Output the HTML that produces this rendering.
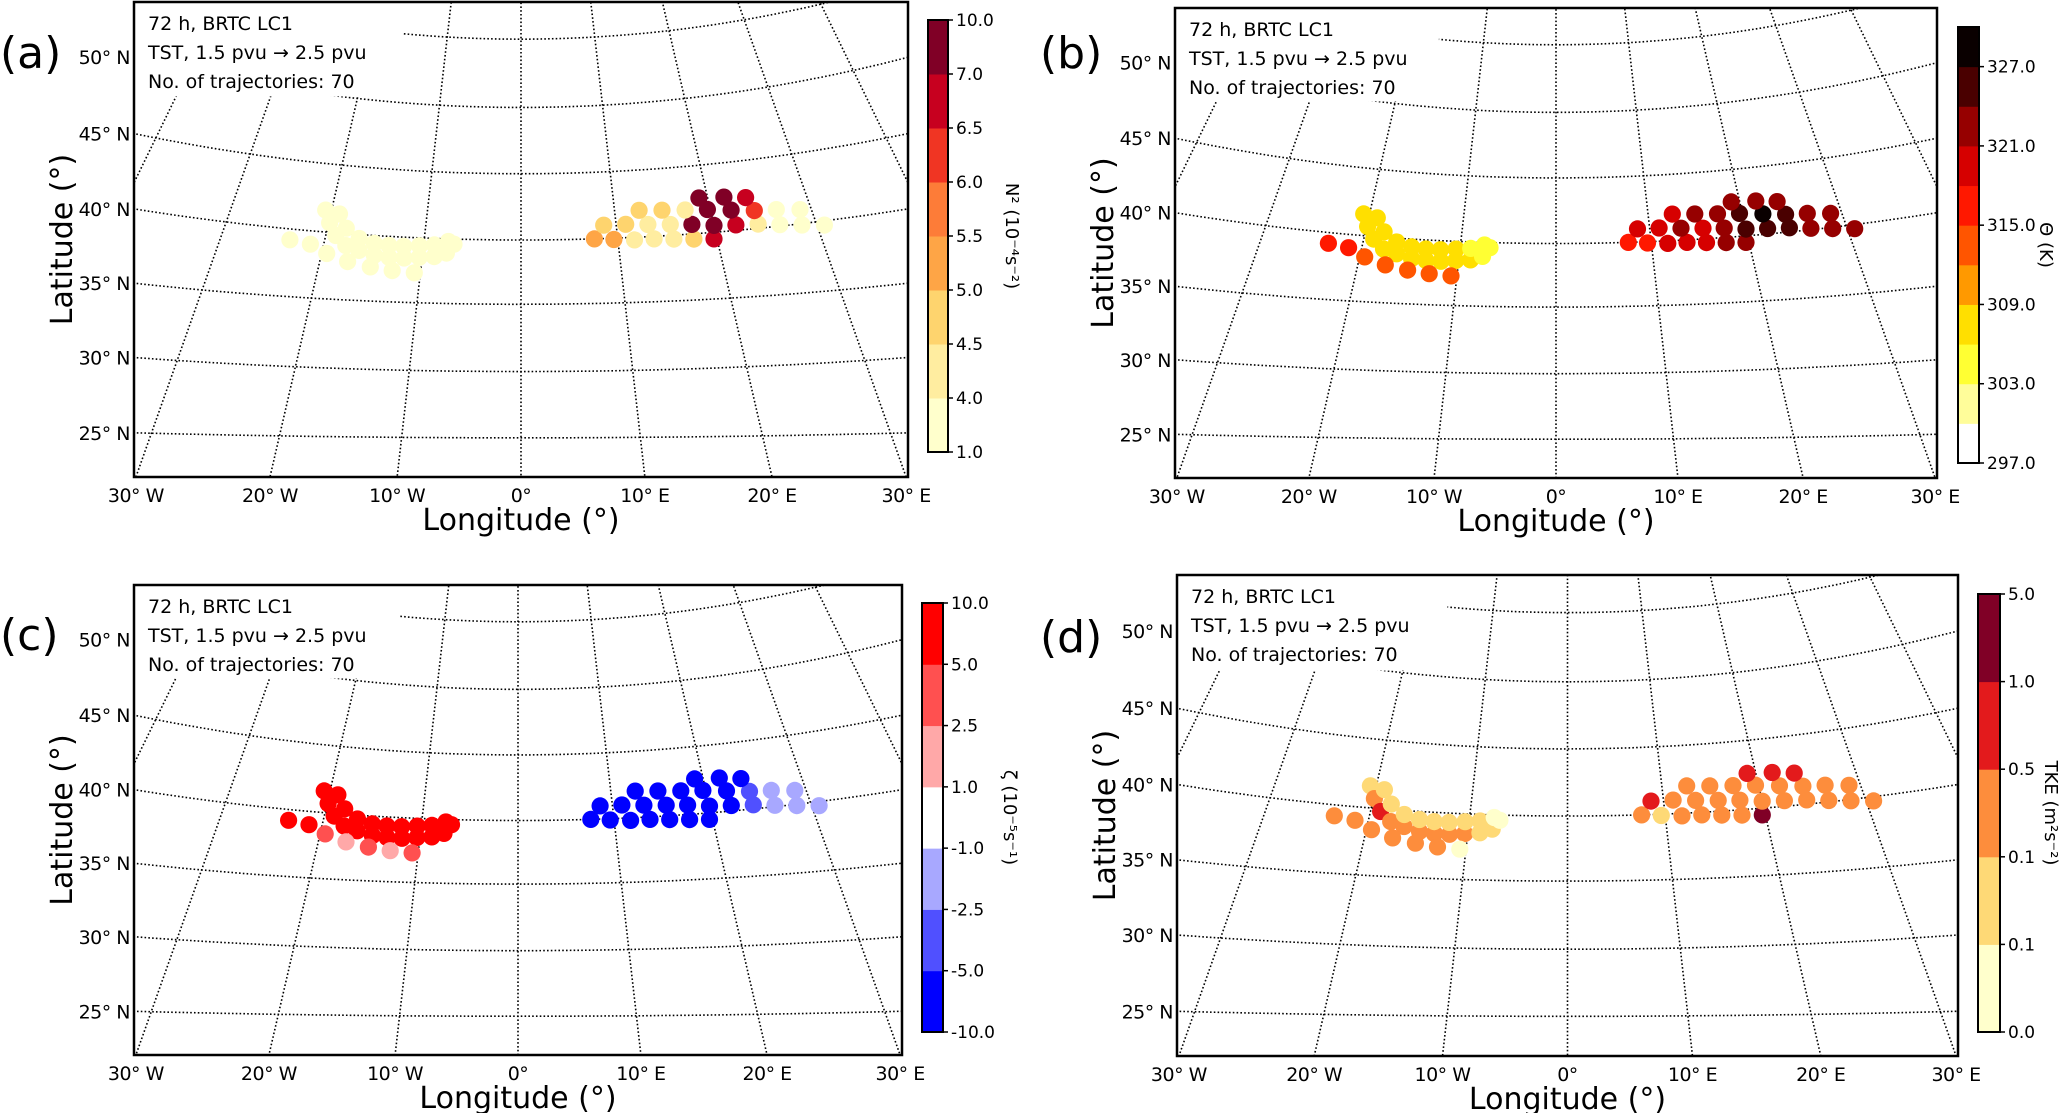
<!DOCTYPE html>
<html><head><meta charset="utf-8">
<style>
html,body{margin:0;padding:0;background:#fff;}
svg{display:block;font-family:"DejaVu Sans","Liberation Sans",sans-serif;}
</style></head>
<body>
<svg id="fig" width="2067" height="1113" viewBox="0 0 2067 1113" xmlns="http://www.w3.org/2000/svg"></svg>
<script>
// ---------- data (shared trajectory positions) ----------
const lons = [-20.6,-19.9,-19.0,-17.8,-16.4,-14.8,-13.3,-11.8,-10.3,-8.8,-7.6,-6.9,
  -19.1,-18.1,-16.6,-15.0,-13.5,-12.0,-10.4,-8.9,-7.5,
  -23.4,-21.3,-19.5,-17.3,-15.0,-12.8,-10.6,
  7.6,9.6,11.7,13.7,15.7,17.7,19.7,
  8.7,11.0,13.3,15.6,17.8,20.0,22.2,24.4,26.5,28.6,30.7,
  12.6,15.0,17.4,19.7,22.1,24.4,26.6,28.9,
  19.1,21.7,23.9];
const lats = [41.6,40.7,39.8,39.1,38.8,38.5,38.4,38.4,38.5,38.6,38.9,39.6,
  41.4,40.4,39.7,39.4,39.3,39.3,39.4,39.5,39.8,
  39.2,39.0,38.4,37.9,37.6,37.4,37.3,
  40.0,39.9,39.8,39.8,39.7,39.6,39.5,
  41.0,41.0,40.9,40.8,40.7,40.5,40.4,40.3,40.1,39.9,39.7,
  42.0,41.9,41.8,41.7,41.5,41.3,41.2,41.0,
  42.6,42.5,42.3];
const n2Values = [2,2,2,2,2,2,2,2,2,2,2,2, 2,2,2,2,2,2,2,2,2, 2,2,2,2,2,2,2,
  5.2,5.4,4.3,4.2,4.4,4.6,6.8,
  4.8,4.5,4.3,4.4,8.5,8.0,6.8,4.1,3.5,3.2,3.0,
  4.6,4.7,4.4,8.8,7.5,6.3,3.8,3.4,
  9.0,8.5,6.8];
const thetaValues = [308,307,307,307,307,307,307,307,307,306,305,305,
  308,307,307,307,307,307,306,305,305,
  316,315,314,314,314,313,313,
  317,317,319,320,320,321,322,
  318,320,321,320,323,325,326,325,322,323,321,
  320,321,322,326,328,325,323,322,
  322,323,322];
const zetaValues = [8,8,8,8,8,8,8,8,8,8,8,8, 8,8,8,8,8,8,8,8,8,
  7,6,3,2,3,2,4,
  -8,-8,-8,-8,-8,-8,-8,
  -8,-8,-8,-8,-8,-7,-6,-4,-2,-2,-2,
  -8,-8,-8,-7,-6,-4,-2,-2,
  -8,-8,-7];
const tkeValues = [0.08,0.3,0.7,0.3,0.3,0.3,0.3,0.3,0.2,0.08,0.08,0.04,
  0.08,0.08,0.08,0.07,0.08,0.08,0.07,0.06,0.03,
  0.3,0.3,0.3,0.3,0.3,0.3,0.04,
  0.3,0.08,0.3,0.3,0.3,0.3,2.0,
  0.7,0.3,0.3,0.3,0.3,0.3,0.3,0.3,0.3,0.3,0.3,
  0.3,0.3,0.3,0.3,0.3,0.3,0.3,0.3,
  0.7,0.7,0.7];
// colour-bar bins
const n2Edges = [1.0,4.0,4.5,5.0,5.5,6.0,6.5,7.0,10.0];
const n2Labels = ["1.0","4.0","4.5","5.0","5.5","6.0","6.5","7.0","10.0"];
const thetaEdges = [297,300,303,306,309,312,315,318,321,324,327,330];
const thetaLabels = ["297.0","","303.0","","309.0","","315.0","","321.0","","327.0",""];
const zetaEdges = [-10,-5,-2.5,-1,1,2.5,5,10];
const zetaLabels = ["-10.0","-5.0","-2.5","-1.0","1.0","2.5","5.0","10.0"];
const tkeEdges = [0,0.05,0.1,0.5,1,5];
const tkeLabels = ["0.0","0.1","0.1","0.5","1.0","5.0"];
const lonTicks = [-30,-20,-10,0,10,20,30];
const lonTickLabels = ["30° W","20° W","10° W","0°","10° E","20° E","30° E"];
const latTicks = [25,30,35,40,45,50];
const latTickLabels = ["25° N","30° N","35° N","40° N","45° N","50° N"];

const n2Colors = ["#ffffcc","#ffeda0","#fed46e","#fea546","#fd7c38","#f03523","#c7001f","#800026"];
const thetaColors = ["#ffffff","#fffd9a","#ffff33","#ffdf00","#ff9900","#ff5500","#ff1800","#d60000","#960000","#4a0000","#0a0000"];
const zetaColors = ["#0000ff","#5050ff","#a8a8ff","#ffffff","#ffa8a8","#ff5050","#ff0000"];
const tkeColors = ["#ffffcc","#fed976","#fd8d3c","#e31a1c","#800026"];

// ---------- projection (reference box 774 x 473) ----------
const P=610, CX=387, W=387, BW=774, BH=473;
const kLat=[15,20,25,30,35,40,45,50,55,60,65];
const kYc=[566,500,434,368,301,237,171,105,37,-31,-99];
const kS=[0,0,5,14,21,31,40,50,58,66,74];
function interp(lat,arr){
  if(lat<=kLat[0])return arr[0];
  for(let i=0;i<kLat.length-1;i++){ if(lat<=kLat[i+1]){const t=(lat-kLat[i])/(kLat[i+1]-kLat[i]);return arr[i]+t*(arr[i+1]-arr[i]);} }
  return arr[arr.length-1];
}
const A = 0.6525*Math.PI/180;
function proj(lon,lat){
  const yc=interp(lat,kYc), s=interp(lat,kS), tn=Math.tan(lon*A);
  let y=yc,x=0;
  for(let i=0;i<8;i++){x=(y+P)*tn; y=yc - s*(x/W)*(x/W);}
  return [CX+x,y];
}
function parY(lat,x){const d=(x-CX)/W;return interp(lat,kYc)-interp(lat,kS)*d*d;}

const NS="http://www.w3.org/2000/svg";
const svg=document.getElementById('fig');
function mk(tag,attrs,parent){const e=document.createElementNS(NS,tag);for(const k in attrs)e.setAttribute(k,attrs[k]);(parent||svg).appendChild(e);return e;}
function colorFor(v,edges,colors){for(let i=0;i<colors.length;i++){if(v<edges[i+1])return colors[i];}return colors[colors.length-1];}

const panels=[
 {id:'a',x:134,y:2,w:774,h:475,cb:[928,20,20,432],edges:n2Edges,labels:n2Labels,colors:n2Colors,vals:n2Values,cbTitle:'N² (10⁻⁴s⁻²)',cbTitleX:1012,letter:[0,68]},
 {id:'b',x:1175,y:8,w:762,h:470,cb:[1958,27,21,436],edges:thetaEdges,labels:thetaLabels,colors:thetaColors,vals:thetaValues,cbTitle:'Θ (K)',cbTitleX:2046,letter:[1040,68]},
 {id:'c',x:134,y:585,w:768,h:470,cb:[922,603,21,429],edges:zetaEdges,labels:zetaLabels,colors:zetaColors,vals:zetaValues,cbTitle:'ζ (10⁻⁵s⁻¹)',cbTitleX:1010,letter:[0,650]},
 {id:'d',x:1177,y:575,w:781,h:481,cb:[1978,594,22,438],edges:tkeEdges,labels:tkeLabels,colors:tkeColors,vals:tkeValues,cbTitle:'TKE (m²s⁻²)',cbTitleX:2051,letter:[1040,652]}
];

panels.forEach(p=>{
  const sx=p.w/BW, sy=p.h/BH;
  const X=v=>p.x+v*sx, Y=v=>p.y+v*sy;
  const g=mk('g',{});
  
  
  const cp=mk('clipPath',{id:'clip'+p.id},g);
  mk('rect',{x:p.x,y:p.y,width:p.w,height:p.h},cp);
  const inner=mk('g',{'clip-path':'url(#clip'+p.id+')'},g);
  for(let lon=-60;lon<=60;lon+=10){
    const tn=Math.tan(lon*A);
    const l=mk('line',{x1:X(CX+(-60+P)*tn),y1:Y(-60),x2:X(CX+(560+P)*tn),y2:Y(560),stroke:'#000','stroke-width':1.6,'stroke-dasharray':'1.6 2.2'},inner);
    
    
  }
  for(let lat=15;lat<=65;lat+=5){
    let d='';
    for(let x=-20;x<=BW+20;x+=12){d+=(d?'L':'M')+X(x).toFixed(1)+','+Y(parY(lat,x)).toFixed(1);}
    const pa=mk('path',{d:d,fill:'none',stroke:'#000','stroke-width':1.6,'stroke-dasharray':'1.6 2.2'},inner);
    
    
  }
  const tb=mk('rect',{x:p.x,y:p.y,width:268*sx,height:94*sy,fill:'#fff'},inner);
  
  
  for(let i=0;i<lons.length;i++){
    const q=proj(lons[i],lats[i]);
    const c=mk('circle',{cx:X(q[0]).toFixed(1),cy:Y(q[1]).toFixed(1),r:8.6,fill:colorFor(p.vals[i],p.edges,p.colors)},inner);
    
    
  }
  const lines=['72 h, BRTC LC1','TST, 1.5 pvu → 2.5 pvu','No. of trajectories: 70'];
  lines.forEach((t,i)=>{
    const tx=mk('text',{x:p.x+14,y:p.y+28+i*29,'font-size':19},g);
    tx.textContent=t;
    
    
  });
  const fr=mk('rect',{x:p.x,y:p.y,width:p.w,height:p.h,fill:'none',stroke:'#000','stroke-width':2.5},g);
  
  
  lonTicks.forEach((lon,i)=>{
    const xx=CX+(BH+P)*Math.tan(lon*A);
    const t=mk('text',{x:X(xx),y:p.y+p.h+25,'font-size':19,'text-anchor':'middle','letter-spacing':-0.5},g);
    t.textContent=lonTickLabels[i];
    
    
  });
  latTicks.forEach((lat,i)=>{
    const t=mk('text',{x:p.x-4,y:Y(parY(lat,0))+7,'font-size':19,'text-anchor':'end','letter-spacing':-0.5},g);
    t.textContent=latTickLabels[i];
    
    
  });
  const xl=mk('text',{x:p.x+p.w/2,y:p.y+p.h+53,'font-size':30,'text-anchor':'middle'},g);
  xl.textContent='Longitude (°)';
  
  
  const yl=mk('text',{x:0,y:0,'font-size':30,'text-anchor':'middle',transform:`translate(${p.x-62},${p.y+p.h/2}) rotate(-90)`},g);
  yl.textContent='Latitude (°)';
  
  
  const lt=mk('text',{x:p.letter[0],y:p.letter[1],'font-size':44},g);
  lt.textContent='('+p.id+')';
  
  
  const [cx,cy,cw,ch]=p.cb, nb=p.colors.length, bh=ch/nb;
  const cg=mk('g',{},g);
  
  
  for(let i=0;i<nb;i++){
    const r=mk('rect',{x:cx,y:cy+ch-(i+1)*bh,width:cw,height:bh+0.5,fill:p.colors[i]},cg);
    
    
  }
  mk('rect',{x:cx,y:cy,width:cw,height:ch,fill:'none',stroke:'#000','stroke-width':2},cg);
  p.labels.forEach((lab,i)=>{
    if(!lab)return;
    const yy=cy+ch-i*bh;
    mk('line',{x1:cx+cw,y1:yy,x2:cx+cw+5,y2:yy,stroke:'#000','stroke-width':1.5},cg);
    const t=mk('text',{x:cx+cw+8,y:yy+6,'font-size':17},cg);
    t.textContent=lab;
    
    
  });
  const ct=mk('text',{x:0,y:0,'font-size':18,'text-anchor':'middle',transform:`translate(${p.cbTitleX-6},${cy+ch/2}) rotate(90)`},cg);
  ct.textContent=p.cbTitle;
  
  
});
</script>
</body></html>
